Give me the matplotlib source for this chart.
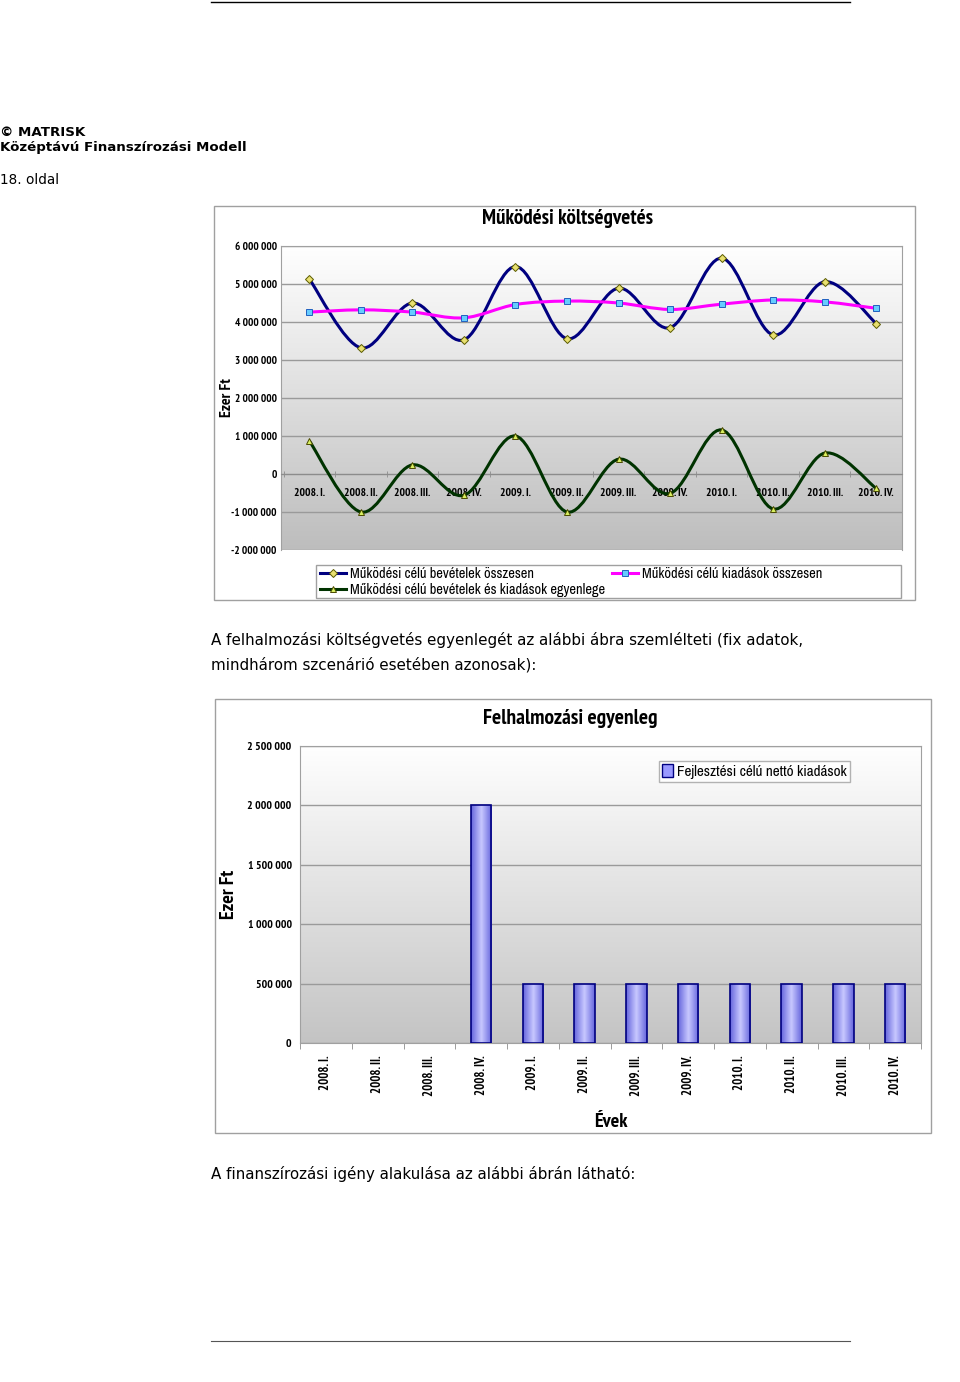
import numpy as np
import matplotlib
matplotlib.use("Agg")
import matplotlib.pyplot as plt
from matplotlib.path import Path
from matplotlib.patches import PathPatch, Rectangle
from matplotlib.lines import Line2D
from matplotlib.colors import LinearSegmentedColormap
from matplotlib import font_manager

# quarters shown on both charts
quarters = ["2008. I.", "2008. II.", "2008. III.", "2008. IV.",
            "2009. I.", "2009. II.", "2009. III.", "2009. IV.",
            "2010. I.", "2010. II.", "2010. III.", "2010. IV."]

# chart 1 - operating budget (thousand Ft)
income = [5130000, 3320000, 4500000, 3530000, 5460000, 3560000,
          4890000, 3850000, 5680000, 3660000, 5060000, 3960000]
expenses = [4260000, 4320000, 4260000, 4110000, 4460000, 4550000,
            4500000, 4330000, 4470000, 4580000, 4530000, 4360000]
balance = [870000, -1000000, 240000, -560000, 1000000, -1000000,
           390000, -510000, 1160000, -920000, 550000, -380000]
y1_ticks = [-2000000, -1000000, 0, 1000000, 2000000, 3000000,
            4000000, 5000000, 6000000]

# chart 2 - capital balance
dev_spending = [0, 0, 0, 2000000, 500000, 500000,
                500000, 500000, 500000, 500000, 500000, 500000]
y2_ticks = [0, 500000, 1000000, 1500000, 2000000, 2500000]

W, H = 960, 1382

candidates = ["Liberation Sans Narrow", "Arial Narrow", "Archivo Narrow", "PT Sans Narrow",
              "Roboto Condensed", "Open Sans Condensed", "Encode Sans Condensed",
              "Fira Sans Condensed", "IBM Plex Sans Condensed", "Barlow Semi Condensed"]
fonts = font_manager.fontManager.ttflist
regular = [n for n in candidates if any(f.name == n for f in fonts)]
bold = [n for n in candidates
        if any(f.name == n and isinstance(f.weight, int) and f.weight >= 700
               and "[" not in f.fname for f in fonts)]
NARROW = regular[:1] + ["DejaVu Sans"]
NARROW_B = (bold[:1] or regular[:1]) + ["DejaVu Sans"]


def fbox(x0, y0, x1, y1):
    return [x0 / W, 1 - y1 / H, (x1 - x0) / W, (y1 - y0) / H]


def fmt(v):
    return f"{v:,}".replace(",", " ")


def smooth_path(xs, ys):
    # Excel style smoothed line: cubic bezier through every point
    pts = np.column_stack([xs, ys]).astype(float)
    ext = np.vstack([pts[0], pts, pts[-1]])
    verts = [pts[0]]
    codes = [Path.MOVETO]
    for i in range(len(pts) - 1):
        p0, p1, p2, p3 = ext[i], ext[i + 1], ext[i + 2], ext[i + 3]
        verts += [p1 + (p2 - p0) / 6, p2 - (p3 - p1) / 6, p2]
        codes += [Path.CURVE4] * 3
    return Path(verts, codes)


def background(box, top, bottom):
    bg = fig.add_axes(box, zorder=0)
    cmap = LinearSegmentedColormap.from_list("bg", [bottom, top])
    bg.imshow(np.linspace(0, 1, 256).reshape(-1, 1), cmap=cmap,
              aspect="auto", origin="lower", extent=[0, 1, 0, 1])
    bg.axis("off")


def frame(x0, y0, x1, y1, color="#a0a0a0"):
    fig.add_artist(Rectangle((x0 / W, 1 - y1 / H), (x1 - x0) / W, (y1 - y0) / H,
                             transform=fig.transFigure, fill=False,
                             edgecolor=color, lw=1))


fig = plt.figure(figsize=(W / 100, H / 100), dpi=100)

# page decoration
fig.add_artist(Line2D([211 / W, 850 / W], [1 - 2 / H, 1 - 2 / H], color="black", lw=1))
fig.add_artist(Line2D([211 / W, 850 / W], [1 - 1341 / H, 1 - 1341 / H], color="#555555", lw=0.8))
fig.text(0, 1 - 132 / H, "© MATRISK", fontsize=9.6, fontweight="bold", va="center")
fig.text(0, 1 - 148 / H, "Középtávú Finanszírozási Modell", fontsize=9.6,
         fontweight="bold", va="center")
fig.text(0, 1 - 180 / H, "18. oldal", fontsize=9.8, va="center")
fig.text(211 / W, 1 - 640 / H,
         "A felhalmozási költségvetés egyenlegét az alábbi ábra szemlélteti (fix adatok,",
         fontsize=10.9, va="center")
fig.text(211 / W, 1 - 665 / H, "mindhárom szcenárió esetében azonosak):",
         fontsize=10.9, va="center")
fig.text(211 / W, 1 - 1174 / H,
         "A finanszírozási igény alakulása az alábbi ábrán látható:",
         fontsize=10.9, va="center")

# chart frames
frame(214, 206, 915, 600)
frame(215, 699, 931, 1133)

# ---------- chart 1 ----------
box1 = fbox(281, 246, 902, 550)
background(box1, "#ffffff", "#bdbdbd")
ax = fig.add_axes(box1, zorder=1)
ax.set_facecolor("none")
x = np.arange(len(quarters))
ax.set_xlim(-0.55, 11.5)
ax.set_ylim(-2000000, 6000000)
ax.set_yticks(y1_ticks)
ax.set_yticklabels([fmt(v) for v in y1_ticks], family=NARROW_B, fontweight="bold",
                   fontsize=8)
ax.grid(axis="y", color="#9a9a9a", lw=1)
ax.set_axisbelow(True)
ax.tick_params(axis="y", length=0, pad=3)
for s in ax.spines.values():
    s.set_color("#a0a0a0")
ax.spines["bottom"].set_position(("data", 0))
ax.spines["bottom"].set_color("#8c8c8c")
ax.set_xticks(x)
ax.set_xticklabels(quarters, family=NARROW_B, fontweight="bold", fontsize=8.3)
ax.set_xticks(np.arange(-0.5, 11.6, 1), minor=True)
ax.tick_params(axis="x", which="major", length=0, pad=10)
ax.tick_params(axis="x", which="minor", length=4, color="#8c8c8c", direction="inout")

series = [
    (income, "#000080", "D", "#e8e070", "#5a5a00", "Működési célú bevételek összesen"),
    (balance, "#003300", "^", "#d8f060", "#4a4a00", "Működési célú bevételek és kiadások egyenlege"),
    (expenses, "#ff00ff", "s", "#66ccff", "#2060c0", "Működési célú kiadások összesen"),
]
handles = []
for vals, col, mk, mfc, mec, lab in series:
    ax.add_patch(PathPatch(smooth_path(x, vals), fill=False, edgecolor=col, lw=2.2, zorder=3))
    ax.plot(x, vals, ls="none", marker=mk, ms=4.5, mfc=mfc, mec=mec, mew=0.7, zorder=4)
    handles.append(Line2D([], [], color=col, lw=2.2, marker=mk, ms=4.5,
                          mfc=mfc, mec=mec, mew=0.7, label=lab))

ax.set_ylabel("Ezer Ft", family=NARROW_B, fontsize=11.4, fontweight="bold")
ax.yaxis.set_label_coords(-0.075, 0.5)
fig.text(567 / W, 1 - 219 / H, "Működési költségvetés", family=NARROW_B,
         fontsize=15.2, fontweight="bold", ha="center", va="center")

frame(316, 565, 901, 598)
fig.legend(handles=handles, loc="upper left", ncol=2,
           bbox_to_anchor=(318 / W, 1 - 565 / H),
           prop={"family": NARROW, "size": 10.3}, frameon=False,
           handlelength=1.8, handletextpad=0.3, columnspacing=0.45,
           borderpad=0.15, labelspacing=0.1, borderaxespad=0)

# ---------- chart 2 ----------
box2 = fbox(300, 746, 921, 1043)
background(box2, "#ffffff", "#c4c4c4")
bx = fig.add_axes(box2, zorder=1)
bx.set_facecolor("none")
bx.set_xlim(-0.5, 11.5)
bx.set_ylim(0, 2500000)
bx.set_yticks(y2_ticks)
bx.set_yticklabels([fmt(v) for v in y2_ticks], family=NARROW_B, fontweight="bold",
                   fontsize=8.5)
bx.grid(axis="y", color="#9a9a9a", lw=1)
bx.set_axisbelow(True)
bx.tick_params(axis="y", length=0, pad=6)
for s in bx.spines.values():
    s.set_color("#a0a0a0")
bx.set_xticks(x)
bx.set_xticklabels(quarters, family=NARROW_B, fontweight="bold", fontsize=9.2, rotation=90)
bx.set_xticks(np.arange(-0.5, 11.6, 1), minor=True)
bx.tick_params(axis="x", which="major", length=0, pad=9)
bx.tick_params(axis="x", which="minor", length=4, color="#8c8c8c")

bars = bx.bar(x, dev_spending, width=0.4, color="#9999ff", edgecolor="none",
              lw=0, zorder=3)
bar_cmap = LinearSegmentedColormap.from_list("bar", ["#6666dd", "#c8c8ff", "#6666dd"])
for b in bars:
    if b.get_height() <= 0:
        b.set_visible(False)
        continue
    im = bx.imshow(np.linspace(0, 1, 64).reshape(1, -1), cmap=bar_cmap, aspect="auto",
                   extent=[b.get_x(), b.get_x() + b.get_width(), 0, b.get_height()],
                   zorder=3.5)
    im.set_clip_path(b)
    bx.add_patch(Rectangle((b.get_x(), 0), b.get_width(), b.get_height(),
                           fill=False, edgecolor="#000080", lw=1.2, zorder=4))
bx.set_xlim(-0.5, 11.5)
bx.set_ylim(0, 2500000)

bx.set_ylabel("Ezer Ft", family=NARROW_B, fontsize=14.5, fontweight="bold")
bx.yaxis.set_label_coords(-0.10, 0.5)
bx.set_xlabel("Évek", family=NARROW_B, fontsize=14.5, fontweight="bold", labelpad=12)
fig.text(570 / W, 1 - 718 / H, "Felhalmozási egyenleg", family=NARROW_B,
         fontsize=15.5, fontweight="bold", ha="center", va="center")

leg_handle = Rectangle((0, 0), 1, 1, facecolor="#9999ff", edgecolor="#000080", lw=1)
fig.legend(handles=[leg_handle], labels=["Fejlesztési célú nettó kiadások"],
           loc="upper left", bbox_to_anchor=(659 / W, 1 - 761 / H),
           prop={"family": NARROW, "size": 10.9}, frameon=True, fancybox=False,
           edgecolor="#a0a0a0", handlelength=0.7, handleheight=0.9,
           handletextpad=0.3, borderpad=0.2, borderaxespad=0)

fig.savefig("out.png", dpi=100)
